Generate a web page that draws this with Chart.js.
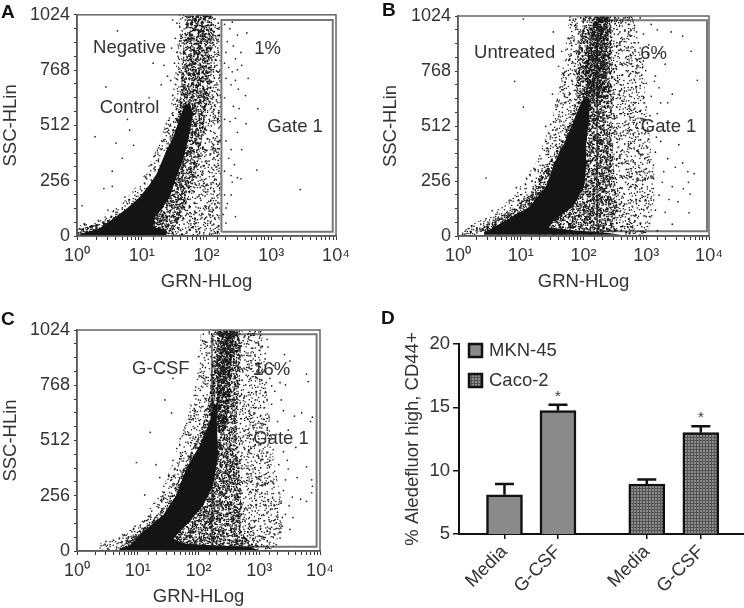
<!DOCTYPE html>
<html>
<head>
<meta charset="utf-8">
<script src="https://cdn.jsdelivr.net/npm/chart.js@4"></script>
<style>
  html, body { margin: 0; background: #fff; width: 744px; height: 608px; overflow: hidden; }
  canvas { position: absolute; filter: blur(0.45px); }
  .tag { position: absolute; font: bold 19px "Liberation Sans", Arial, sans-serif; color: #111; }
</style>
</head>
<body>
<canvas id="panelA" style="left:0;top:0"></canvas>
<canvas id="panelB" style="left:380px;top:0"></canvas>
<canvas id="panelC" style="left:0;top:305px"></canvas>
<canvas id="panelD" style="left:402px;top:305px"></canvas>
<div class="tag" style="left:1px;top:1px">A</div>
<div class="tag" style="left:382px;top:-1px">B</div>
<div class="tag" style="left:1px;top:308px">C</div>
<div class="tag" style="left:381px;top:307px">D</div>
<script>
const decadeLabels = { 1: '10⁰', 10: '10¹', 100: '10²', 1000: '10³', 10000: '10⁴' };

// --- A: negative control ---
const aCore = [1,4, 1.5,20, 2.2,35, 4,89, 6,130, 9.3,181, 13,235, 17,288, 24,395, 30,450, 38,540, 46,610, 56,610, 62,564, 52,440, 42,340, 36,288, 30,220, 27,181, 20,120, 16,89, 15,40, 24,30, 24,4];
const aHazeWide = [38,1024, 34,800, 28,600, 19,430, 10,260, 5,150, 2,70, 1,45, 1,0, 160,0, 165,300, 165,700, 160,1024];
const aHazeBand = [50,1024, 44,880, 42,740, 38,600, 28,450, 20,330, 12,200, 6,120, 3,70, 1,30, 1,5, 30,8, 40,90, 55,190, 70,300, 85,450, 100,600, 120,740, 125,880, 120,1024];
const aGate = [170,20, 170,1000, 8900,1000, 8900,20, 170,20];
const aDense = [62,1015, 78,1002, 95,1010, 110,990, 58,985, 72,975, 88,968, 120,980, 66,952, 84,948, 101,955, 55,940, 130,945, 75,925, 92,930, 61,915, 108,910, 48,905, 82,898, 70,890, 98,885, 125,895, 56,872, 78,868, 90,860, 115,865, 65,850, 45,845, 84,838, 104,830, 72,822, 58,815, 95,808, 138,815, 68,798, 80,790, 50,785, 110,780, 62,770, 88,760, 74,752, 56,745, 100,740, 42,735, 68,728, 82,718, 60,708, 118,712, 76,700, 52,692, 90,685, 64,675, 72,665, 48,655, 84,648, 58,640, 105,635, 68,628, 40,620, 76,612, 54,604, 92,598, 62,590, 70,580, 130,585, 48,572, 84,565, 58,558, 74,1018, 86,990, 68,1000, 104,975, 76,945, 60,930, 90,912, 70,905, 80,880, 62,862, 74,842, 92,822, 58,790, 76,775, 66,745, 86,735, 72,690, 60,668, 80,625, 66,600, 78,545, 88,520, 68,510, 95,495, 60,480, 76,465, 104,450, 55,440, 70,425, 88,410, 62,395, 50,380, 78,370, 46,355, 66,340, 90,325, 42,310, 58,295, 74,280, 38,265, 52,250, 34,235, 46,220, 64,205, 30,190, 40,175, 25,160, 34,145, 55,135, 22,110, 30,95, 44,80, 20,72, 26,50, 36,38, 55,30, 70,20, 30,14, 42,8, 1.2,30, 1.6,42, 2,50, 2.5,62, 3,70, 3.4,90, 1.3,55];
const aSparse = [190,980, 230,960, 250,990, 300,930, 420,940, 210,900, 260,880, 340,850, 200,850, 280,820, 190,800, 220,780, 250,760, 300,770, 350,790, 440,730, 200,730, 240,700, 280,720, 310,680, 400,650, 190,640, 260,600, 320,590, 620,590, 410,520, 190,540, 230,530, 280,545, 300,480, 200,440, 240,400, 350,400, 220,360, 270,330, 190,300, 240,280, 300,270, 340,265, 250,250, 600,305, 2800,215, 190,190, 240,190, 200,130, 280,90, 200,60, 210,150, 180,100,
  4.2,950, 2.8,690, 1.9,460, 1,415, 4,430, 5,360, 7.5,420, 6.5,490, 6,540, 9,590, 13,640, 15,800, 22,790, 20,700, 25,740, 3.5,300, 2.6,220, 3.5,230, 1.2,140, 5.5,180, 7,150, 3,120, 4,110, 5,125, 6,150, 8,170, 10,210, 12,190, 14,260, 11,245, 16,320, 18,350, 14,330, 20,400, 22,440, 26,490, 28,510, 24,520, 30,560, 33,610, 30,650, 36,670, 28,720, 38,760, 32,800, 35,850, 40,880, 42,950, 30,1000, 35,985,
  30,30, 35,60, 40,25, 45,55, 50,15, 55,70, 60,40, 68,60, 75,30, 85,85, 95,45, 105,70, 118,25, 130,55, 145,40, 36,110, 42,125, 50,105, 58,90, 66,115, 75,130, 85,105, 95,140, 110,115, 125,95, 140,130, 155,85, 48,150, 56,170, 65,155, 72,180, 82,165, 95,185, 108,160, 122,175, 135,150, 150,190, 60,210, 70,235, 80,225, 92,245, 105,215, 118,240, 132,205, 148,230, 70,270, 84,285, 98,265, 112,295, 126,275, 142,260, 155,300, 82,320, 96,345, 110,330, 125,355, 140,320, 152,350, 86,375, 100,395, 116,380, 132,405, 148,370, 96,430, 112,445, 128,420, 145,460, 100,490, 118,510, 135,475, 155,500, 110,540, 128,565, 150,530, 120,600, 142,630, 155,580, 125,670, 140,700, 150,650, 128,760, 145,790, 155,730, 135,840, 150,870, 158,930,
  47,1000, 135,1005, 152,985, 41,925, 33,915, 145,905, 29,870, 152,840, 37,825, 149,760, 44,700, 35,590, 117,825, 122,1012, 53,505, 42,465, 88,300, 102,240, 77,190, 64,100, 115,60, 138,15, 78,12, 90,128, 120,315, 135,395, 80,430, 150,425, 108,610, 137,550, 100,665, 112,760, 95,1020];

// --- B: untreated ---
const bCore = [2.6,18, 3,26, 5.8,73, 13.6,135, 25,228, 34,337, 49,430, 67,523, 85,600, 100,640, 125,640, 123,538, 110,430, 110,321, 102,228, 67,135, 34,73, 28,40, 60,28, 110,22, 250,14, 400,6, 2.6,6];
const bHazeWide = [60,1024, 50,850, 42,700, 30,520, 18,350, 8,190, 3,90, 1.3,40, 1,0, 1000,0, 1300,100, 1400,250, 1200,400, 1000,600, 900,800, 600,1024];
const bHazeBand = [105,1024, 85,900, 75,750, 78,600, 50,480, 28,340, 15,200, 6,110, 3,60, 2,20, 280,20, 350,130, 300,320, 280,520, 290,700, 280,1024];
const bColumn = [110,640, 105,780, 125,900, 150,1024, 250,1024, 220,900, 230,780, 220,640];
const bGate = [165,22, 165,1004, 9300,1004, 9300,22, 165,22];
const bDense = [165,1020, 180,1012, 200,1018, 225,1005, 245,1015, 150,990, 215,985, 235,970, 130,965, 120,945, 245,950, 110,925, 225,935, 240,915, 100,900, 115,885, 230,895, 95,870, 110,850, 225,860, 250,840, 90,825, 105,805, 120,815, 230,820, 85,780, 100,765, 115,790, 235,775, 260,760, 92,745, 110,730, 228,740, 250,715, 88,700, 105,690, 120,710, 225,695, 245,670, 96,660, 112,645, 130,670, 220,650, 240,620, 150,620, 170,610, 195,630, 130,600, 145,590, 165,575, 190,590, 215,600, 135,560, 155,545, 175,555, 205,540, 125,520, 140,505, 160,515, 185,500, 210,490, 130,470, 150,460, 170,475, 195,445, 125,425, 145,410, 165,430, 190,395, 220,420, 125,375, 140,355, 160,370, 185,340, 215,365, 120,325, 140,305, 165,315, 195,290, 118,275, 135,255, 155,265, 180,240, 210,260, 110,225, 128,205, 150,215, 175,190, 205,205, 95,180, 115,160, 140,170, 165,145, 195,155, 80,140, 100,120, 130,115, 160,100, 190,110, 60,100, 85,90, 115,75, 145,65, 180,70, 225,60, 280,50, 340,60, 420,45, 500,55, 600,40, 60,55, 90,45, 130,40, 170,35, 210,42, 260,30, 320,28, 400,25, 480,18, 540,12, 200,15, 3,40, 4,55, 5,48, 2.5,32, 2,28, 7,85, 9,105, 12,120, 17,165, 20,190, 24,250, 28,290, 31,350, 38,395];
const bSparse = [1.3,22, 1.5,35, 1.8,45, 2,15, 2.3,55, 3,65, 4,80, 5,95, 3.5,118, 6,110, 8,125, 10,140, 7,165, 8.5,225, 2.8,270, 13,180, 15,205, 18,230, 12,240, 20,265, 17,310, 24,320, 21,360, 27,380, 19,300, 30,420, 34,470, 25,440, 38,500, 42,540, 30,520, 46,575, 50,620, 36,610, 60,660, 42,690, 66,720, 50,760, 72,790, 60,820, 55,870, 80,860, 70,910, 85,950, 60,1005, 75,985, 90,1015, 100,1000, 110,1018, 125,1005, 8,720, 11,600, 25,510, 33,950, 11,1010, 45,860, 40,790, 32,660,
  280,1000, 320,990, 360,1015, 420,1000, 520,985, 600,1010, 800,1015, 1200,985, 270,960, 310,940, 380,950, 460,960, 560,930, 700,950, 900,940, 1500,960, 2500,950, 3800,930, 5200,860, 280,910, 340,900, 420,915, 520,880, 640,900, 800,875, 1100,890, 1600,850, 270,860, 320,840, 390,870, 470,830, 560,845, 720,820, 900,815, 1300,830, 2000,800, 270,800, 330,780, 400,800, 480,770, 600,790, 760,760, 980,770, 1400,745, 6500,725, 2600,660, 290,740, 350,720, 420,750, 510,710, 640,730, 800,700, 1000,710, 1600,690, 300,680, 370,660, 450,690, 550,650, 700,670, 900,640, 1200,650, 2200,620, 280,620, 340,600, 410,630, 500,590, 620,610, 780,580, 1000,600, 1500,570, 260,560, 310,545, 380,570, 460,530, 560,550, 700,520, 900,540, 1300,510, 2000,490, 250,500, 300,480, 360,510, 440,470, 540,490, 680,460, 850,480, 1100,450, 1700,440, 3300,425, 245,440, 290,420, 350,450, 420,400, 520,430, 640,410, 800,380, 1000,420, 1400,390, 2200,360, 3800,340, 240,380, 280,350, 340,390, 410,340, 500,370, 620,345, 760,320, 950,360, 1300,330, 1900,300, 2900,320, 4600,300, 5800,290, 230,320, 270,300, 330,330, 400,280, 480,310, 600,290, 740,260, 900,300, 1200,270, 1800,250, 2600,230, 4700,250, 3900,220, 225,270, 260,240, 320,270, 390,225, 470,250, 580,230, 720,205, 880,240, 1150,210, 1600,190, 2300,170, 5000,195, 3200,160, 215,210, 250,185, 300,215, 370,170, 450,195, 560,170, 700,150, 860,180, 1100,150, 1400,120, 2000,110, 4800,108, 200,160, 235,130, 285,160, 350,115, 430,140, 540,120, 680,100, 840,125, 1000,90, 2600,55, 170,120, 210,95, 260,110, 330,85, 410,95, 520,80, 660,70, 800,60, 1500,25, 900,20,
  305,965, 445,905, 355,835, 610,855, 295,775, 530,745, 385,705, 740,640, 430,575, 335,505, 590,455, 720,395, 465,345, 265,265, 875,335, 545,275, 660,225, 415,185, 780,165, 325,140, 605,135, 490,105, 375,95, 730,85, 255,75, 1050,180, 1250,300, 1450,460, 1150,560, 1700,620, 850,650, 680,580, 1350,720, 1050,845, 750,900, 650,980, 460,1015];

// --- C: G-CSF ---
const cCore = [5,10, 7.4,26, 12,88, 26,165, 43,258, 63,382, 105,490, 154,600, 175,680, 205,680, 200,600, 210,444, 175,305, 120,212, 63,119, 38,57, 60,34, 200,26, 700,18, 1000,3, 5,3];
const cHazeWide = [110,1024, 100,850, 70,650, 40,430, 25,280, 12,150, 5,70, 2.2,30, 2,0, 1500,0, 2400,90, 2500,200, 1800,380, 1500,600, 1300,800, 1100,1024];
const cHazeBand = [190,1024, 165,850, 150,700, 110,560, 70,440, 45,320, 30,220, 16,130, 7,60, 5,10, 900,10, 500,90, 500,300, 420,500, 440,700, 500,850, 480,1024];
const cColumn = [200,900, 200,650, 210,560, 280,560, 330,700, 340,850, 420,1024, 260,1024];
const cGate = [166,20, 166,1004, 8800,1004, 8800,20, 166,20];
const cDense = [300,1010, 340,1018, 380,1005, 420,1012, 260,990, 320,985, 360,995, 450,980, 230,970, 280,960, 340,965, 400,955, 215,935, 260,925, 310,940, 380,920, 230,900, 280,885, 340,900, 420,875, 200,860, 250,850, 300,870, 360,845, 190,825, 230,810, 280,830, 340,815, 400,800, 180,780, 215,765, 270,790, 330,770, 390,750, 175,730, 210,710, 260,745, 320,725, 370,700, 170,680, 215,660, 260,690, 310,665, 165,640, 210,620, 250,650, 300,610, 150,590, 190,570, 230,600, 280,575, 330,620, 145,545, 180,530, 220,560, 260,520, 320,545, 130,495, 165,480, 225,500, 280,470, 340,490, 120,440, 150,430, 240,450, 300,420, 380,440, 100,400, 135,385, 230,400, 280,370, 350,390, 85,355, 115,340, 210,350, 260,320, 330,340, 420,360, 72,310, 95,295, 190,300, 240,275, 300,290, 380,310, 460,280, 58,265, 80,245, 170,255, 220,230, 280,245, 350,225, 440,250, 45,215, 65,195, 130,205, 190,185, 250,200, 320,175, 400,190, 510,170, 35,165, 50,145, 110,165, 160,135, 220,150, 290,125, 370,140, 470,115, 22,130, 38,110, 90,120, 130,95, 190,105, 250,85, 340,95, 430,70, 560,60, 16,80, 25,70, 75,65, 110,55, 170,60, 230,45, 320,50, 420,40, 520,35, 620,50, 760,30, 880,25, 10,45, 13,60, 8,30, 6.5,20];
const cSparse = [2.5,25, 3,45, 3.5,30, 4,50, 4.5,18, 5,60, 5.5,40, 6,75, 7,65, 8,90, 9,115, 11,120, 13,140, 15,160, 17,185, 13,260, 9.5,410, 16,550, 23,340, 28,700, 38,800, 20,400, 27,300, 33,350, 38,420, 44,475, 50,520, 36,640, 60,570, 72,610, 85,660, 100,700, 90,760, 110,810, 120,720, 130,850, 100,900, 140,950, 120,1005, 150,1015, 160,900, 145,790,
  480,1005, 560,990, 650,1005, 800,1000, 1050,1000, 500,950, 620,960, 780,940, 1000,930, 1400,945, 2600,910, 480,900, 580,885, 720,905, 920,870, 1250,890, 1700,860, 3200,880, 460,845, 540,830, 680,850, 840,820, 1100,835, 1500,800, 2200,780, 6000,820, 6400,785, 470,790, 600,770, 740,790, 950,760, 1300,780, 1800,740, 2700,770, 450,730, 560,710, 680,735, 860,700, 1150,720, 1600,680, 2500,650, 430,670, 530,650, 660,680, 820,640, 1050,665, 1450,620, 2000,600, 3800,625, 5000,640, 7000,600, 7500,620, 400,610, 490,590, 610,620, 780,580, 980,600, 1350,560, 1900,540, 4000,480, 380,560, 460,530, 570,555, 720,520, 900,545, 1200,500, 1700,470, 2500,460, 6000,390, 370,505, 440,480, 540,505, 680,465, 850,490, 1120,440, 1500,420, 2100,400, 3000,380, 7300,330, 360,450, 430,420, 520,455, 650,410, 800,435, 1050,385, 1400,365, 1900,345, 2700,330, 7500,300, 4200,340, 360,395, 450,365, 520,395, 630,360, 780,380, 980,335, 1300,315, 1750,295, 2500,280, 3500,250, 7300,270, 350,330, 440,310, 510,340, 620,300, 760,325, 950,285, 1250,265, 1650,245, 2300,230, 3100,210, 4800,240, 6000,230, 420,260, 500,280, 600,250, 740,270, 900,235, 1180,215, 1550,195, 2000,180, 2700,170, 3600,155, 600,200, 720,215, 860,185, 1100,165, 1450,145, 1900,130, 2400,115, 3200,100, 580,140, 690,155, 830,135, 1050,115, 1350,95, 1750,80, 2200,60, 560,100, 660,105, 800,85, 1000,70, 1200,55, 1500,40, 1900,30, 640,70, 780,55, 950,42, 1100,30, 1300,22, 1700,22,
  545,975, 870,965, 1250,915, 610,815, 1020,795, 1600,765, 790,675, 1180,610, 560,480, 910,410, 1300,440, 690,375, 1100,305, 840,255, 1420,230, 640,190, 980,150, 1240,125, 520,215, 470,160, 760,110, 1600,110, 2100,270, 2900,420, 1650,520, 1100,570, 2300,700, 3000,560, 1350,980, 700,1018];

// --- D: bars ---
const barCategories = ['Media', 'G-CSF', 'Media', 'G-CSF'];
const barSlots = [1, 2, 3.66, 4.67];
const mknValues = [8.1, 14.75];
const mknErrors = [0.85, 0.45];
const cacoValues = [8.95, 13];
const cacoErrors = [0.35, 0.5];
const starValues = [16, 14.3];

const FONT = '"Liberation Sans", Arial, sans-serif';
const INK = '#333';

function pairs(list) {
    const out = [];
    for (let i = 0; i < list.length; i += 2) out.push({ x: list[i], y: list[i + 1] });
    return out;
}

// motif de points fins : simple remplissage des zones saturées, ce n'est pas une série
function speckle(count, seed) {
    const tile = document.createElement('canvas');
    tile.width = 127;
    tile.height = 113;
    const c = tile.getContext('2d');
    const grain = k => { const s = Math.sin(k) * 43758.5453; return s - Math.floor(s); };
    c.fillStyle = '#151515';
    for (let i = 1; i <= count; i++) {
        c.beginPath();
        c.arc(grain(i * 12.9898 + seed) * 127, grain(i * 78.233 + seed) * 113, 0.75, 0, Math.PI * 2);
        c.fill();
    }
    return c.createPattern(tile, 'repeat');
}

// texte posé en coordonnées de données + cadre du tracé
const flowNotes = {
    id: 'flowNotes',
    afterDatasetsDraw(chart, args, opts) {
        const { ctx, chartArea: a, scales } = chart;
        ctx.save();
        ctx.strokeStyle = '#666';
        ctx.lineWidth = 1.5;
        ctx.strokeRect(a.left, a.top, a.right - a.left, a.bottom - a.top);
        ctx.fillStyle = INK;
        ctx.font = '18.5px ' + FONT;
        ctx.textBaseline = 'middle';
        opts.items.forEach(n => ctx.fillText(n[0], scales.x.getPixelForValue(n[1]), scales.y.getPixelForValue(n[2])));
        ctx.restore();
    }
};

function region(list, tone) {
    return { data: pairs(list), showLine: true, fill: 'shape', backgroundColor: tone, borderWidth: 0, pointRadius: 0 };
}

function flowPanel(id, size, box, shapes, gate, dense, sparse, notes) {
    const canvas = document.getElementById(id);
    canvas.width = size[0];
    canvas.height = size[1];
    canvas.style.width = size[0] + 'px';
    canvas.style.height = size[1] + 'px';
    // le premier dataset est dessiné au-dessus des suivants
    const datasets = [
        { data: pairs(dense), backgroundColor: '#161616', borderWidth: 0, pointRadius: 1.1 },
        { data: pairs(sparse), backgroundColor: '#222', borderWidth: 0, pointRadius: 0.85 }
    ].concat(shapes.map(s => region(s[0], s[1])));
    datasets.push({ data: pairs(gate), showLine: true, fill: false, borderColor: '#777', borderWidth: 2, pointRadius: 0 });
    new Chart(canvas, {
        type: 'scatter',
        data: { datasets },
        options: {
            responsive: false,
            animation: false,
            events: [],
            layout: { padding: { top: box.top, right: box.right, left: 0, bottom: 0 } },
            plugins: { legend: { display: false }, tooltip: { enabled: false }, flowNotes: { items: notes } },
            scales: {
                x: {
                    type: 'logarithmic', min: 1, max: 10000,
                    afterFit: s => { s.height = box.bottom; },
                    border: { color: INK, width: 1.5 },
                    grid: { drawOnChartArea: false, color: INK, tickLength: 4 },
                    ticks: { autoSkip: false, maxRotation: 0, padding: 5, color: INK, font: { family: FONT, size: 18 }, callback: v => decadeLabels[v] || '' },
                    title: { display: true, text: 'GRN-HLog', color: INK, padding: 0, font: { family: FONT, size: 18.5 } }
                },
                y: {
                    min: 0, max: 1024,
                    afterFit: s => { s.width = box.left; },
                    border: { color: INK, width: 1.5 },
                    grid: { drawOnChartArea: false, color: INK, tickLength: 3 },
                    ticks: { stepSize: 64, autoSkip: false, padding: 4, color: INK, font: { family: FONT, size: 18 }, callback: v => (v % 256 === 0 ? v : '') },
                    title: { display: true, text: 'SSC-HLin', color: INK, padding: 0, font: { family: FONT, size: 18.5 } }
                }
            }
        },
        plugins: [flowNotes]
    });
}

const SOLID = '#141414';
const LIGHT = speckle(1500, 11);
const MEDIUM = speckle(4600, 17);
const HEAVY = speckle(7500, 23);
flowPanel('panelA', [372, 293], { left: 77, right: 36, top: 13, bottom: 57 },
    [[aCore, SOLID], [aHazeBand, MEDIUM], [aHazeWide, LIGHT]], aGate, aDense, aSparse,
    [['Negative', 1.77, 871], ['Control', 2.24, 592], ['1%', 545, 866], ['Gate 1', 870, 503]]);
flowPanel('panelB', [364, 293], { left: 78, right: 35, top: 16, bottom: 57 },
    [[bCore, SOLID], [bColumn, HEAVY], [bHazeBand, MEDIUM], [bHazeWide, LIGHT]], bGate, bDense, bSparse,
    [['Untreated', 1.8, 852], ['6%', 800, 849], ['Gate 1', 820, 507]]);
flowPanel('panelC', [372, 303], { left: 77, right: 52, top: 25, bottom: 57 },
    [[cCore, SOLID], [cColumn, HEAVY], [cHazeBand, MEDIUM], [cHazeWide, LIGHT]], cGate, cDense, cSparse,
    [['G-CSF', 8.07, 843], ['16%', 795, 838], ['Gate 1', 795, 521]]);

// --- D ---
function dottedFill() {
    const tile = document.createElement('canvas');
    tile.width = tile.height = 3;
    const c = tile.getContext('2d');
    c.fillStyle = '#8c8c8c';
    c.fillRect(0, 0, 3, 3);
    c.fillStyle = '#555';
    c.fillRect(0, 0, 1, 3);
    c.fillRect(0, 0, 3, 1);
    return c.createPattern(tile, 'repeat');
}

const barExtras = {
    id: 'barExtras',
    beforeDatasetsDraw(chart) {
        const { ctx, scales: { x, y } } = chart;
        const values = mknValues.concat(cacoValues);
        const errors = mknErrors.concat(cacoErrors);
        ctx.save();
        ctx.strokeStyle = '#111';
        ctx.lineWidth = 2.5;
        barSlots.forEach((slot, i) => {
            const px = x.getPixelForValue(slot);
            const top = y.getPixelForValue(values[i] + errors[i]);
            ctx.beginPath();
            ctx.moveTo(px, y.getPixelForValue(values[i]));
            ctx.lineTo(px, top);
            ctx.moveTo(px - 9.5, top);
            ctx.lineTo(px + 9.5, top);
            ctx.stroke();
        });
        ctx.restore();
    },
    afterDraw(chart) {
        const { ctx, scales: { x, y } } = chart;
        ctx.save();
        ctx.fillStyle = INK;
        ctx.textAlign = 'center';
        ctx.textBaseline = 'middle';
        ctx.font = '15px ' + FONT;
        ctx.fillText('*', x.getPixelForValue(barSlots[1]), y.getPixelForValue(starValues[0]) + 2);
        ctx.fillText('*', x.getPixelForValue(barSlots[3]), y.getPixelForValue(starValues[1]) + 2);
        // légende
        ctx.textAlign = 'left';
        chart.data.datasets.forEach((ds, i) => {
            const top = 39 + i * 30;
            ctx.fillStyle = ds.backgroundColor;
            ctx.strokeStyle = '#111';
            ctx.lineWidth = 2.5;
            ctx.fillRect(67, top, 13, 13);
            ctx.strokeRect(67, top, 13, 13);
            ctx.fillStyle = INK;
            ctx.font = '18.5px ' + FONT;
            ctx.fillText(ds.label, 87, top + 7);
        });
        ctx.restore();
    }
};

(function drawBars() {
    const canvas = document.getElementById('panelD');
    canvas.width = 342;
    canvas.height = 303;
    canvas.style.width = '342px';
    canvas.style.height = '303px';
    const barStyle = { barThickness: 36, borderColor: '#111', borderWidth: 2.5, borderSkipped: false, grouped: false };
    new Chart(canvas, {
        type: 'bar',
        data: {
            datasets: [
                Object.assign({ label: 'MKN-45', backgroundColor: '#8a8a8a', data: mknValues.map((v, i) => ({ x: barSlots[i], y: v })) }, barStyle),
                Object.assign({ label: 'Caco-2', backgroundColor: dottedFill(), data: cacoValues.map((v, i) => ({ x: barSlots[i + 2], y: v })) }, barStyle)
            ]
        },
        options: {
            responsive: false,
            animation: false,
            events: [],
            layout: { padding: { top: 39, right: 0, left: 0, bottom: 0 } },
            plugins: { legend: { display: false }, tooltip: { enabled: false } },
            scales: {
                x: {
                    type: 'linear', min: 0.15, max: 5.477, offset: false,
                    afterFit: s => { s.height = 74; },
                    afterBuildTicks: s => { s.ticks = barSlots.map(v => ({ value: v })); },
                    border: { color: '#111', width: 2 },
                    grid: { offset: false, drawOnChartArea: false, color: '#111', tickLength: 5, lineWidth: 1.5 },
                    ticks: { autoSkip: false, minRotation: 45, maxRotation: 45, padding: 2, color: INK, font: { family: FONT, size: 18.5 }, callback: v => barCategories[barSlots.indexOf(v)] }
                },
                y: {
                    min: 5, max: 20,
                    afterFit: s => { s.width = 57; },
                    border: { color: '#111', width: 2 },
                    grid: { drawOnChartArea: false, color: '#111', tickLength: 6, lineWidth: 1.5 },
                    ticks: { stepSize: 5, padding: 3, color: INK, font: { family: FONT, size: 18.5 } },
                    title: { display: true, text: '% Aledefluor high, CD44+', color: INK, padding: 0, font: { family: FONT, size: 18.5 } }
                }
            }
        },
        plugins: [barExtras]
    });
})();
</script>
</body>
</html>
